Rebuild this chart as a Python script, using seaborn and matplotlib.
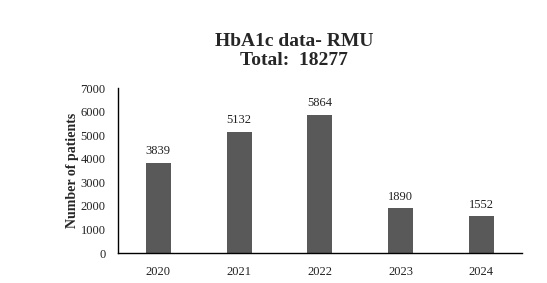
import matplotlib
matplotlib.use("Agg")
import matplotlib.pyplot as plt
import seaborn as sns
import pandas as pd

years = ["2020", "2021", "2022", "2023", "2024"]
patients = [3839, 5132, 5864, 1890, 1552]
title_text = "HbA1c data- RMU\nTotal:  18277"

sns.set_style("white")
plt.rcParams['font.family'] = ['Liberation Serif', 'DejaVu Serif']

df = pd.DataFrame({"Year": years, "Patients": patients})

fig = plt.figure(figsize=(5.47, 2.83), dpi=100)
ax = fig.add_axes([0.2157, 0.106, 0.738, 0.583])
sns.barplot(data=df, x="Year", y="Patients", color="#595959", width=0.31,
            saturation=1, ax=ax, edgecolor="none")
ax.set_ylim(0, 7000)
ax.set_yticks(range(0, 7001, 1000))
ax.tick_params(axis='both', length=0, labelsize=9, colors="#222222")
ax.tick_params(axis='x', pad=9)
ax.tick_params(axis='y', pad=9)
for s in ["top", "right"]:
    ax.spines[s].set_visible(False)
for s in ["left", "bottom"]:
    ax.spines[s].set_color("black")
    ax.spines[s].set_linewidth(1.0)
for i, v in enumerate(patients):
    ax.text(i, v + 250, str(v), ha="center", va="bottom", fontsize=9, color="#222222")
ax.set_ylabel("Number of patients", fontsize=10, fontweight="bold", labelpad=1)
ax.set_xlabel("Year", fontsize=10, fontweight="bold", labelpad=7)
fig.text(0.538, 0.755, title_text, ha="center", va="bottom", fontsize=14,
         fontweight="bold", linespacing=1.15)
fig.savefig("out.png", dpi=100)
